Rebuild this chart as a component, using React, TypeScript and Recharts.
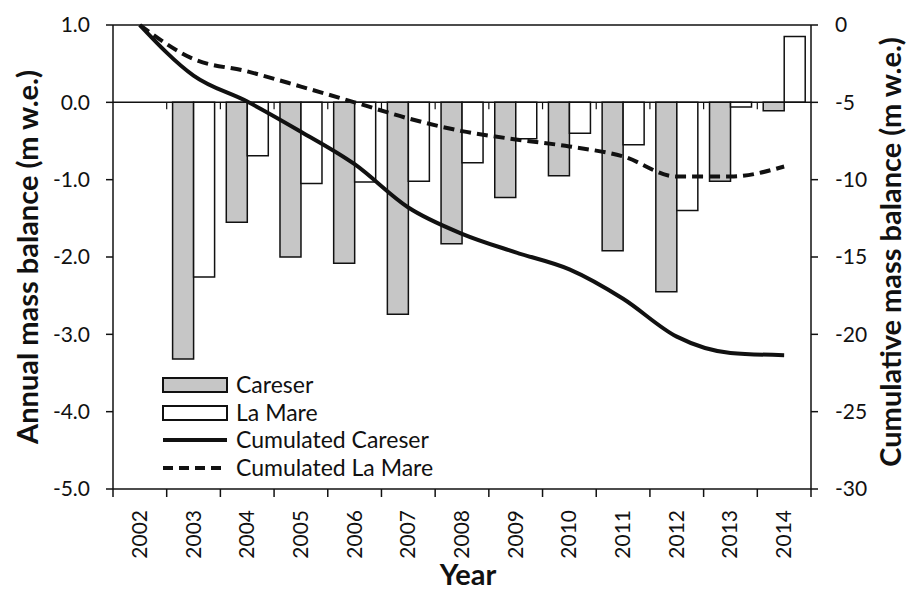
import { ComposedChart, Bar, Line, XAxis, YAxis, ReferenceLine, Legend } from 'recharts';

const years = ['2002', '2003', '2004', '2005', '2006', '2007', '2008', '2009', '2010', '2011', '2012', '2013', '2014'];
const careser = [null, -3.32, -1.55, -2.0, -2.08, -2.74, -1.83, -1.23, -0.95, -1.92, -2.45, -1.02, -0.11];
const laMare = [null, -2.26, -0.69, -1.05, -1.03, -1.02, -0.78, -0.47, -0.4, -0.55, -1.4, -0.06, 0.85];
const cumCareser = [0, -3.27, -4.95, -6.9, -9.0, -11.8, -13.5, -14.7, -15.8, -17.7, -20.15, -21.2, -21.35];
const cumLaMare = [0, -2.2, -3.0, -3.98, -5.0, -6.04, -6.86, -7.4, -7.85, -8.5, -9.8, -9.8, -9.15];

const leftTicks = [1, 0, -1, -2, -3, -4, -5];
const rightTicks = [0, -5, -10, -15, -20, -25, -30];

const data = years.map((year, i) => ({
  year,
  careser: careser[i],
  laMare: laMare[i],
  cumCareser: cumCareser[i],
  cumLaMare: cumLaMare[i],
}));

const FONT = 'Lato, "Open Sans", sans-serif';
const INK = '#111';

const YearTick = (props: any) => {
  const { x, y, payload, index, visibleTicksCount } = props;
  const half = payload.offset ?? 27;
  return (
    <g>
      <line x1={x - half} x2={x - half} y1={y} y2={y + 8} stroke={INK} strokeWidth={1.5} />
      {index === visibleTicksCount - 1 && (
        <line x1={x + half} x2={x + half} y1={y} y2={y + 8} stroke={INK} strokeWidth={1.5} />
      )}
      <text
        transform={`translate(${x + 7},${y + 21}) rotate(-90)`}
        textAnchor="end"
        fontSize={21}
        fontFamily={FONT}
        fill={INK}
      >
        {payload.value}
      </text>
    </g>
  );
};

const legendItems = [
  { name: 'Careser', kind: 'box', fill: '#c6c6c6' },
  { name: 'La Mare', kind: 'box', fill: '#ffffff' },
  { name: 'Cumulated Careser', kind: 'line', dash: undefined },
  { name: 'Cumulated La Mare', kind: 'line', dash: '10 6' },
];

const LegendBox = () => (
  <div style={{ fontFamily: FONT, fontSize: 23, color: INK, lineHeight: '27.7px' }}>
    {legendItems.map((it) => (
      <div key={it.name} style={{ display: 'flex', alignItems: 'center', height: 27.7 }}>
        <svg width={68} height={18} style={{ marginRight: 6 }}>
          {it.kind === 'box' ? (
            <rect x={1} y={2} width={64} height={14} fill={it.fill} stroke={INK} strokeWidth={2} />
          ) : (
            <line x1={1} x2={65} y1={9} y2={9} stroke={INK} strokeWidth={4} strokeDasharray={it.dash} />
          )}
        </svg>
        <span>{it.name}</span>
      </div>
    ))}
  </div>
);

const LeftTitle = (props: any) => {
  const vb = props.viewBox;
  const cx = 26;
  const cy = vb.y + vb.height / 2;
  return (
    <text
      transform={`translate(${cx},${cy}) rotate(-90)`}
      textAnchor="middle"
      dominantBaseline="central"
      fontSize={29}
      fontWeight="bold"
      fontFamily={FONT}
      fill={INK}
    >
      Annual mass balance (m w.e.)
    </text>
  );
};

const RightTitle = (props: any) => {
  const vb = props.viewBox;
  const cx = vb.x + vb.width - 20;
  const cy = vb.y + vb.height / 2 - 5;
  return (
    <text
      transform={`translate(${cx},${cy}) rotate(-90)`}
      textAnchor="middle"
      dominantBaseline="central"
      fontSize={29}
      fontWeight="bold"
      fontFamily={FONT}
      fill={INK}
    >
      Cumulative mass balance (m w.e.)
    </text>
  );
};

const YearTitle = (props: any) => {
  const vb = props.viewBox;
  return (
    <text
      x={vb.x + vb.width / 2 + 6}
      y={585}
      textAnchor="middle"
      fontSize={29}
      fontWeight="bold"
      fontFamily={FONT}
      fill={INK}
    >
      Year
    </text>
  );
};

export default function App() {
  return (
    <div style={{ width: 909, height: 592, background: '#fff' }}>
      <style>{'body{margin:0}'}</style>
      <ComposedChart
        width={909}
        height={592}
        data={data}
        margin={{ top: 25, right: 0, bottom: 0, left: 0 }}
        barCategoryGap="11%"
        barGap={0}
      >
        <XAxis
          dataKey="year"
          height={103}
          tickLine={false}
          tickSize={0}
          tickMargin={0}
          interval={0}
          axisLine={{ stroke: INK, strokeWidth: 1.5 }}
          tick={<YearTick />}
          label={YearTitle}
        />
        <YAxis
          yAxisId="left"
          width={113}
          domain={[-5, 1]}
          ticks={leftTicks}
          interval={0}
          tickFormatter={(v: number) => v.toFixed(1)}
          tickSize={7}
          tickMargin={16}
          tick={{ fontSize: 21, fontFamily: FONT, fill: INK }}
          axisLine={{ stroke: INK, strokeWidth: 1.5 }}
          tickLine={{ stroke: INK, strokeWidth: 1.5 }}
          label={LeftTitle}
        />
        <YAxis
          yAxisId="right"
          orientation="right"
          width={98}
          domain={[-30, 0]}
          ticks={rightTicks}
          interval={0}
          tickSize={7}
          tickMargin={17}
          tick={{ fontSize: 21, fontFamily: FONT, fill: INK, textAnchor: 'start' }}
          axisLine={{ stroke: INK, strokeWidth: 1.5 }}
          tickLine={{ stroke: INK, strokeWidth: 1.5 }}
          label={RightTitle}
        />
        <ReferenceLine yAxisId="left" y={1} stroke={INK} strokeWidth={1.5} />
        {years.slice(1).map((yr) => (
          <ReferenceLine
            key={'zt' + yr}
            yAxisId="left"
            position="start"
            segment={[{ x: yr, y: 0 }, { x: yr, y: -0.09 }]}
            stroke={INK}
            strokeWidth={1.2}
          />
        ))}
        <Bar yAxisId="left" dataKey="careser" name="Careser" fill="#c6c6c6" stroke={INK} strokeWidth={1.5} isAnimationActive={false} />
        <Bar yAxisId="left" dataKey="laMare" name="La Mare" fill="#ffffff" stroke={INK} strokeWidth={1.5} isAnimationActive={false} />
        <ReferenceLine yAxisId="left" y={0} stroke={INK} strokeWidth={1.5} />
        <Line
          yAxisId="right"
          type="monotone"
          dataKey="cumCareser"
          name="Cumulated Careser"
          stroke={INK}
          strokeWidth={4}
          dot={false}
          isAnimationActive={false}
        />
        <Line
          yAxisId="right"
          type="monotone"
          dataKey="cumLaMare"
          name="Cumulated La Mare"
          stroke={INK}
          strokeWidth={4}
          strokeDasharray="11 6"
          dot={false}
          isAnimationActive={false}
        />
        <Legend
          layout="horizontal"
          align="center"
          verticalAlign="middle"
          content={<LegendBox />}
          wrapperStyle={{ position: 'absolute', left: 162, top: 371, width: 'auto' }}
        />
      </ComposedChart>
    </div>
  );
}
